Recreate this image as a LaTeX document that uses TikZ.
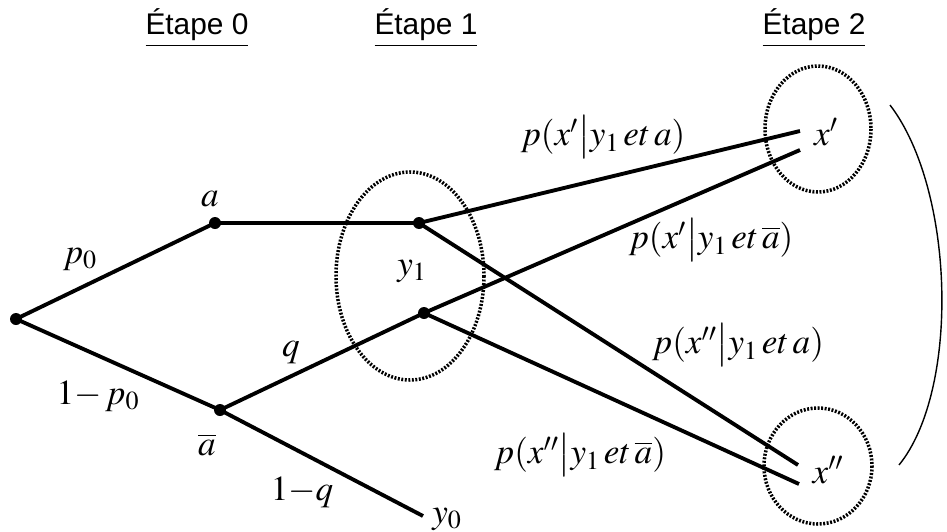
\documentclass[tikz,border=0pt]{standalone}
\usepackage{mathptmx}
\usepackage{fontspec}
\setsansfont{Liberation Sans}
\usepackage{tikz}
\usetikzlibrary{positioning}
\tikzset{
  branch/.style={black, line width=2.2pt},
  dot/.style={circle, fill=black, inner sep=0pt, minimum size=2.4mm},
  zone/.style={black, line width=2pt, dash pattern=on 1.1pt off 0.9pt},
  lab/.style={font=\fontsize{20}{24}\selectfont, inner sep=1pt},
  stage/.style={font=\sffamily\fontsize{17}{20}\selectfont},
  bracket/.style={black, line width=0.8pt},
}
\newcommand{\stagelab}[1]{\underline{#1}}

\begin{document}
\begin{tikzpicture}[x=0.02cm,y=-0.02cm]
  \path[use as bounding box] (0,0) rectangle (947,531);

  \node[stage] (S0) at (197,28) {\stagelab{Étape 0}};
  \node[stage] (S1) at (426,28) {\stagelab{Étape 1}};
  \node[stage] (S2) at (814,28) {\stagelab{Étape 2}};

  \node[dot] (root) at (16,319) {};
  \node[dot] (a) at (215,223) {};
  \node[dot] (abar) at (220,410) {};
  \node[dot] (ya) at (419,223) {};
  \node[dot] (yb) at (424,313) {};
  \coordinate (y0) at (423,516);
  \coordinate (xa1) at (800,131);
  \coordinate (xb1) at (800,150);
  \coordinate (xa2) at (798,465);
  \coordinate (xb2) at (799,484);

  \draw[branch] (root.center) -- (a.center) -- (ya.center);
  \draw[branch] (root.center) -- (abar.center) -- (yb.center);
  \draw[branch] (abar.center) -- (y0);
  \draw[branch] (ya.center) -- (xa1);
  \draw[branch] (ya.center) -- (xa2);
  \draw[branch] (yb.center) -- (xb1);
  \draw[branch] (yb.center) -- (xb2);

  \draw[zone] (410,276) ellipse [x radius=74, y radius=104];
  \draw[zone] (818,129) ellipse [x radius=53, y radius=63];
  \draw[zone] (818,466) ellipse [x radius=54, y radius=58];
  \draw[bracket] (890,105) .. controls (955,190) and (960,390) .. (899,465);

  \node[lab] (la) at (210,199) {$a$};
  \node[lab] (labar) at (207,445) {$\overline{a}$};
  \node[lab] (lp0) at (80,259) {$p_0$};
  \node[lab] (l1p0) at (98,396) {$1{-}\,p_0$};
  \node[lab] (lq) at (291,353) {$q$};
  \node[lab] (l1q) at (302,492) {$1{-}q$};
  \node[lab] (ly1) at (412,271) {$y_1$};
  \node[lab] (ly0) at (447,519) {$y_0$};
  \node[lab] (lx1) at (826,132) {$x'$};
  \node[lab] (lx2) at (828,470) {$x''$};

  \node[lab] (p1) at (603,137) {$p(x'\big|y_1\,et\,a)$};
  \node[lab] (p2) at (711,240) {$p(x'\big|y_1\,et\,\overline{a})$};
  \node[lab] (p3) at (738,345) {$p(x''\big|y_1\,et\,a)$};
  \node[lab] (p4) at (580,455) {$p(x''\big|y_1\,et\,\overline{a})$};
\end{tikzpicture}
\end{document}
